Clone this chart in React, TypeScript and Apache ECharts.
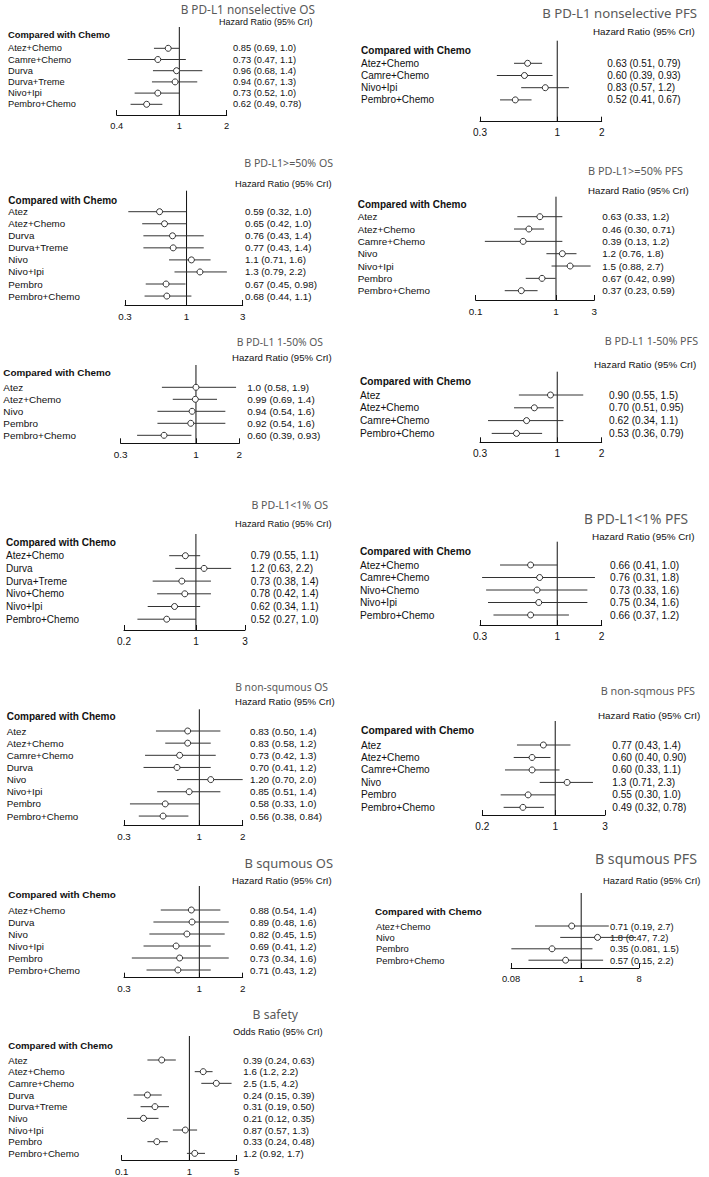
import React, { useEffect, useRef } from "react";
import * as echarts from "echarts";

// ---------- data ----------
const osNonselNames = ["Atez+Chemo", "Camre+Chemo", "Durva", "Durva+Treme", "Nivo+Ipi", "Pembro+Chemo"];
const osNonselEst = ["0.85", "0.73", "0.96", "0.94", "0.73", "0.62"];
const osNonselLo = ["0.69", "0.47", "0.68", "0.67", "0.52", "0.49"];
const osNonselHi = ["1.0", "1.1", "1.4", "1.3", "1.0", "0.78"];
const osNonselTicks = ["0.4", "1", "2"];

const pfsNonselNames = ["Atez+Chemo", "Camre+Chemo", "Nivo+Ipi", "Pembro+Chemo"];
const pfsNonselEst = ["0.63", "0.60", "0.83", "0.52"];
const pfsNonselLo = ["0.51", "0.39", "0.57", "0.41"];
const pfsNonselHi = ["0.79", "0.93", "1.2", "0.67"];
const pfsNonselTicks = ["0.3", "1", "2"];

const os50Names = ["Atez", "Atez+Chemo", "Durva", "Durva+Treme", "Nivo", "Nivo+Ipi", "Pembro", "Pembro+Chemo"];
const os50Est = ["0.59", "0.65", "0.76", "0.77", "1.1", "1.3", "0.67", "0.68"];
const os50Lo = ["0.32", "0.42", "0.43", "0.43", "0.71", "0.79", "0.45", "0.44"];
const os50Hi = ["1.0", "1.0", "1.4", "1.4", "1.6", "2.2", "0.98", "1.1"];
const os50Ticks = ["0.3", "1", "3"];

const pfs50Names = ["Atez", "Atez+Chemo", "Camre+Chemo", "Nivo", "Nivo+Ipi", "Pembro", "Pembro+Chemo"];
const pfs50Est = ["0.63", "0.46", "0.39", "1.2", "1.5", "0.67", "0.37"];
const pfs50Lo = ["0.33", "0.30", "0.13", "0.76", "0.88", "0.42", "0.23"];
const pfs50Hi = ["1.2", "0.71", "1.2", "1.8", "2.7", "0.99", "0.59"];
const pfs50Ticks = ["0.1", "1", "3"];

const os1to50Names = ["Atez", "Atez+Chemo", "Nivo", "Pembro", "Pembro+Chemo"];
const os1to50Est = ["1.0", "0.99", "0.94", "0.92", "0.60"];
const os1to50Lo = ["0.58", "0.69", "0.54", "0.54", "0.39"];
const os1to50Hi = ["1.9", "1.4", "1.6", "1.6", "0.93"];
const os1to50Ticks = ["0.3", "1", "2"];

const pfs1to50Names = ["Atez", "Atez+Chemo", "Camre+Chemo", "Pembro+Chemo"];
const pfs1to50Est = ["0.90", "0.70", "0.62", "0.53"];
const pfs1to50Lo = ["0.55", "0.51", "0.34", "0.36"];
const pfs1to50Hi = ["1.5", "0.95", "1.1", "0.79"];
const pfs1to50Ticks = ["0.3", "1", "2"];

const osLt1Names = ["Atez+Chemo", "Durva", "Durva+Treme", "Nivo+Chemo", "Nivo+Ipi", "Pembro+Chemo"];
const osLt1Est = ["0.79", "1.2", "0.73", "0.78", "0.62", "0.52"];
const osLt1Lo = ["0.55", "0.63", "0.38", "0.42", "0.34", "0.27"];
const osLt1Hi = ["1.1", "2.2", "1.4", "1.4", "1.1", "1.0"];
const osLt1Ticks = ["0.2", "1", "3"];

const pfsLt1Names = ["Atez+Chemo", "Camre+Chemo", "Nivo+Chemo", "Nivo+Ipi", "Pembro+Chemo"];
const pfsLt1Est = ["0.66", "0.76", "0.73", "0.75", "0.66"];
const pfsLt1Lo = ["0.41", "0.31", "0.33", "0.34", "0.37"];
const pfsLt1Hi = ["1.0", "1.8", "1.6", "1.6", "1.2"];
const pfsLt1Ticks = ["0.3", "1", "2"];

const osNonSqNames = ["Atez", "Atez+Chemo", "Camre+Chemo", "Durva", "Nivo", "Nivo+Ipi", "Pembro", "Pembro+Chemo"];
const osNonSqEst = ["0.83", "0.83", "0.73", "0.70", "1.20", "0.85", "0.58", "0.56"];
const osNonSqLo = ["0.50", "0.58", "0.42", "0.41", "0.70", "0.51", "0.33", "0.38"];
const osNonSqHi = ["1.4", "1.2", "1.3", "1.2", "2.0", "1.4", "1.0", "0.84"];
const osNonSqTicks = ["0.3", "1", "2"];

const pfsNonSqNames = ["Atez", "Atez+Chemo", "Camre+Chemo", "Nivo", "Pembro", "Pembro+Chemo"];
const pfsNonSqEst = ["0.77", "0.60", "0.60", "1.3", "0.55", "0.49"];
const pfsNonSqLo = ["0.43", "0.40", "0.33", "0.71", "0.30", "0.32"];
const pfsNonSqHi = ["1.4", "0.90", "1.1", "2.3", "1.0", "0.78"];
const pfsNonSqTicks = ["0.2", "1", "3"];

const osSqNames = ["Atez+Chemo", "Durva", "Nivo", "Nivo+Ipi", "Pembro", "Pembro+Chemo"];
const osSqEst = ["0.88", "0.89", "0.82", "0.69", "0.73", "0.71"];
const osSqLo = ["0.54", "0.48", "0.45", "0.41", "0.34", "0.43"];
const osSqHi = ["1.4", "1.6", "1.5", "1.2", "1.6", "1.2"];
const osSqTicks = ["0.3", "1", "2"];

const pfsSqNames = ["Atez+Chemo", "Nivo", "Pembro", "Pembro+Chemo"];
const pfsSqEst = ["0.71", "1.8", "0.35", "0.57"];
const pfsSqLo = ["0.19", "0.47", "0.081", "0.15"];
const pfsSqHi = ["2.7", "7.2", "1.5", "2.2"];
const pfsSqTicks = ["0.08", "1", "8"];

const safetyNames = ["Atez", "Atez+Chemo", "Camre+Chemo", "Durva", "Durva+Treme", "Nivo", "Nivo+Ipi", "Pembro", "Pembro+Chemo"];
const safetyEst = ["0.39", "1.6", "2.5", "0.24", "0.31", "0.21", "0.87", "0.33", "1.2"];
const safetyLo = ["0.24", "1.2", "1.5", "0.15", "0.19", "0.12", "0.57", "0.24", "0.92"];
const safetyHi = ["0.63", "2.2", "4.2", "0.39", "0.50", "0.35", "1.3", "0.48", "1.7"];
const safetyTicks = ["0.1", "1", "5"];

const HR_LABEL = "Hazard Ratio (95% CrI)";
const OR_LABEL = "Odds Ratio (95% CrI)";
const HEADER = "Compared with Chemo";

const panels = [
  { title: "B PD-L1 nonselective OS", ratio: HR_LABEL, names: osNonselNames, est: osNonselEst, lo: osNonselLo, hi: osNonselHi, ticks: osNonselTicks },
  { title: "B PD-L1 nonselective PFS", ratio: HR_LABEL, names: pfsNonselNames, est: pfsNonselEst, lo: pfsNonselLo, hi: pfsNonselHi, ticks: pfsNonselTicks },
  { title: "B PD-L1>=50% OS", ratio: HR_LABEL, names: os50Names, est: os50Est, lo: os50Lo, hi: os50Hi, ticks: os50Ticks },
  { title: "B PD-L1>=50% PFS", ratio: HR_LABEL, names: pfs50Names, est: pfs50Est, lo: pfs50Lo, hi: pfs50Hi, ticks: pfs50Ticks },
  { title: "B PD-L1 1-50% OS", ratio: HR_LABEL, names: os1to50Names, est: os1to50Est, lo: os1to50Lo, hi: os1to50Hi, ticks: os1to50Ticks },
  { title: "B PD-L1 1-50% PFS", ratio: HR_LABEL, names: pfs1to50Names, est: pfs1to50Est, lo: pfs1to50Lo, hi: pfs1to50Hi, ticks: pfs1to50Ticks },
  { title: "B PD-L1<1% OS", ratio: HR_LABEL, names: osLt1Names, est: osLt1Est, lo: osLt1Lo, hi: osLt1Hi, ticks: osLt1Ticks },
  { title: "B PD-L1<1% PFS", ratio: HR_LABEL, names: pfsLt1Names, est: pfsLt1Est, lo: pfsLt1Lo, hi: pfsLt1Hi, ticks: pfsLt1Ticks },
  { title: "B non-squmous OS", ratio: HR_LABEL, names: osNonSqNames, est: osNonSqEst, lo: osNonSqLo, hi: osNonSqHi, ticks: osNonSqTicks },
  { title: "B non-sqmous PFS", ratio: HR_LABEL, names: pfsNonSqNames, est: pfsNonSqEst, lo: pfsNonSqLo, hi: pfsNonSqHi, ticks: pfsNonSqTicks },
  { title: "B squmous OS", ratio: HR_LABEL, names: osSqNames, est: osSqEst, lo: osSqLo, hi: osSqHi, ticks: osSqTicks },
  { title: "B squmous PFS", ratio: HR_LABEL, names: pfsSqNames, est: pfsSqEst, lo: pfsSqLo, hi: pfsSqHi, ticks: pfsSqTicks },
  { title: "B safety", ratio: OR_LABEL, names: safetyNames, est: safetyEst, lo: safetyLo, hi: safetyHi, ticks: safetyTicks },
];

// ---------- layout (pixel positions per panel) ----------
// title: [rightX, centerY, size], ratio: [leftX, centerY, size], header: [leftX, centerY, size]
const layouts = [
  { title: [315, 9, 11.8], ratio: [219, 22, 9.0], header: [8, 34.5, 9.4], labelX: 8, font: 9.3, first: 48.3, sp: 11.2, vtop: 27, axisY: 115, xl: 116.7, xr: 226.7, hrX: 233 },
  { title: [697, 13.3, 13.2], ratio: [593, 31.7, 9.8], header: [361, 50, 10.1], labelX: 361, font: 10, first: 63.3, sp: 12.2, vtop: 40.7, axisY: 121.7, xl: 480, xr: 601.7, hrX: 607.3 },
  { title: [333, 163, 10.6], ratio: [235, 184, 9.3], header: [8.3, 200, 10], labelX: 8.3, font: 9.8, first: 211.7, sp: 12.05, vtop: 190.7, axisY: 305, xl: 125, xr: 242.7, hrX: 245 },
  { title: [683, 170.7, 10.9], ratio: [588, 190.7, 9.7], header: [357.7, 204, 10], labelX: 357.7, font: 9.9, first: 216.7, sp: 12.33, vtop: 196.7, axisY: 300, xl: 475.7, xr: 594.3, hrX: 602.3 },
  { title: [323, 341.7, 10.3], ratio: [232, 357.3, 9.6], header: [3.3, 372.7, 9.9], labelX: 3.3, font: 9.95, first: 387.3, sp: 12, vtop: 365, axisY: 443.3, xl: 120.7, xr: 239.3, hrX: 247.3 },
  { title: [698, 341, 10.7], ratio: [594, 364.3, 9.86], header: [360, 381, 10.2], labelX: 360, font: 10.2, first: 395, sp: 12.8, vtop: 371.7, axisY: 442.3, xl: 480, xr: 601.7, hrX: 609 },
  { title: [328, 505, 10.6], ratio: [235, 524.3, 9.3], header: [6, 542.3, 10.1], labelX: 6, font: 10, first: 555.7, sp: 12.7, vtop: 534, axisY: 630, xl: 124, xr: 245, hrX: 250.7 },
  { title: [688, 518.3, 13.75], ratio: [592, 536, 9.9], header: [360, 551, 10.2], labelX: 360, font: 10.2, first: 565, sp: 12.5, vtop: 541.7, axisY: 625, xl: 480, xr: 601.7, hrX: 610 },
  { title: [328, 687.3, 10.3], ratio: [235, 701.7, 9.6], header: [6.7, 716.7, 10], labelX: 6.7, font: 9.8, first: 731, sp: 12.15, vtop: 709.3, axisY: 825, xl: 124, xr: 242.7, hrX: 250 },
  { title: [695, 690.7, 10.8], ratio: [598, 715, 9.85], header: [361, 730, 10.4], labelX: 361, font: 10.1, first: 745, sp: 12.47, vtop: 721, axisY: 815, xl: 482.3, xr: 605, hrX: 612.3 },
  { title: [333, 862.7, 12.95], ratio: [232, 880, 9.6], header: [8.3, 894, 9.9], labelX: 8.3, font: 9.8, first: 910, sp: 12, vtop: 886, axisY: 977.7, xl: 124, xr: 242.7, hrX: 250 },
  { title: [697, 858, 14.2], ratio: [603, 880, 9.4], header: [375, 911, 9.8], labelX: 376, font: 9.4, first: 926, sp: 11.4, vtop: 893, axisY: 968, xl: 511, xr: 639, hrX: 610 },
  { title: [298, 1014.3, 12.2], ratio: [233, 1031, 9.4], header: [8.3, 1045, 9.6], labelX: 8.3, font: 9.7, first: 1060, sp: 11.67, vtop: 1036, axisY: 1160, xl: 121.7, xr: 236.7, hrX: 243.3 },
];

const FONT = "'Liberation Sans', Arial, sans-serif";
const TITLE_FONT = "'Noto Sans', 'Open Sans', sans-serif";

function tickText(v: number, ticks: string[]) {
  for (const t of ticks) {
    const n = Number(t);
    if (Math.abs(v - n) <= Math.abs(n) * 1e-6) return t;
  }
  return "";
}

function buildOption() {
  const grid: any[] = [];
  const xAxis: any[] = [];
  const yAxis: any[] = [];
  const series: any[] = [];
  const graphic: any[] = [];

  panels.forEach((p, i) => {
    const L = layouts[i];
    const n = p.names.length;
    const top = L.first - L.sp / 2;
    const height = n * L.sp;
    const tickNums = p.ticks.map(Number);
    grid.push({ left: L.xl, top, width: L.xr - L.xl, height });

    xAxis.push({
      type: "log",
      logBase: 10,
      gridIndex: i,
      min: tickNums[0],
      max: tickNums[tickNums.length - 1],
      offset: L.axisY - (top + height),
      axisLine: { show: true, lineStyle: { color: "#111", width: 1 } },
      axisTick: { show: true, inside: true, length: 5, customValues: tickNums, lineStyle: { color: "#111", width: 1 } },
      minorTick: { show: false },
      splitLine: { show: false },
      axisLabel: {
        customValues: tickNums,
        margin: 6,
        fontSize: L.font,
        fontFamily: FONT,
        color: "#111",
        formatter: (v: number) => tickText(v, p.ticks),
      },
    });

    const hrTexts = p.est.map((e, j) => `${e} (${p.lo[j]}, ${p.hi[j]})`);
    const yCommon = {
      type: "category",
      gridIndex: i,
      inverse: true,
      axisLine: { show: false },
      axisTick: { show: false },
      splitLine: { show: false },
    };
    yAxis.push({
      ...yCommon,
      data: p.names,
      position: "left",
      axisLabel: { interval: 0, align: "left", margin: L.xl - L.labelX, fontSize: L.font, fontFamily: FONT, color: "#111" },
    });
    yAxis.push({
      ...yCommon,
      data: hrTexts,
      position: "right",
      axisLabel: { interval: 0, align: "left", margin: L.hrX - L.xr, fontSize: L.font, fontFamily: FONT, color: "#111" },
    });

    // reference line at ratio = 1
    series.push({
      type: "custom",
      xAxisIndex: i,
      yAxisIndex: 2 * i,
      silent: true,
      data: [[1, 0]],
      encode: { x: 0, y: 1 },
      renderItem: (_params: any, api: any) => {
        const x = api.coord([1, 0])[0];
        return {
          type: "line",
          shape: { x1: x, y1: L.vtop, x2: x, y2: L.axisY },
          style: { stroke: "#111", lineWidth: 1 },
        };
      },
      z: 1,
    });

    // credible interval bars
    series.push({
      type: "custom",
      xAxisIndex: i,
      yAxisIndex: 2 * i,
      silent: true,
      data: p.lo.map((l, j) => [Number(l), Number(p.hi[j]), j]),
      encode: { x: [0, 1], y: 2 },
      renderItem: (_params: any, api: any) => {
        const a = api.coord([api.value(0), api.value(2)]);
        const b = api.coord([api.value(1), api.value(2)]);
        return {
          type: "line",
          shape: { x1: a[0], y1: a[1], x2: b[0], y2: b[1] },
          style: { stroke: "#333", lineWidth: 1 },
        };
      },
      z: 2,
    });

    // point estimates
    series.push({
      type: "scatter",
      xAxisIndex: i,
      yAxisIndex: 2 * i,
      silent: true,
      data: p.est.map((e, j) => [Number(e), j]),
      symbol: "circle",
      symbolSize: 6,
      itemStyle: { color: "#fff", borderColor: "#333", borderWidth: 1, opacity: 1 },
      z: 3,
    });

    graphic.push({
      type: "text",
      x: L.title[0],
      y: L.title[1],
      style: { text: p.title, fontSize: L.title[2], fontFamily: TITLE_FONT, fill: "#595959", align: "right", verticalAlign: "middle" },
    });
    graphic.push({
      type: "text",
      x: L.ratio[0],
      y: L.ratio[1],
      style: { text: p.ratio, fontSize: L.ratio[2], fontFamily: FONT, fill: "#111", align: "left", verticalAlign: "middle" },
    });
    graphic.push({
      type: "text",
      x: L.header[0],
      y: L.header[1],
      style: { text: HEADER, fontSize: L.header[2], fontWeight: "bold", fontFamily: FONT, fill: "#111", align: "left", verticalAlign: "middle" },
    });
  });

  return {
    animation: false,
    backgroundColor: "#fff",
    grid,
    xAxis,
    yAxis,
    series,
    graphic,
  };
}

export default function App() {
  const ref = useRef<HTMLDivElement>(null);
  useEffect(() => {
    if (!ref.current) return;
    const chart = echarts.init(ref.current, undefined, { renderer: "svg" });
    chart.setOption(buildOption() as any);
    return () => chart.dispose();
  }, []);
  return <div ref={ref} style={{ position: "absolute", left: 0, top: 0, width: 709, height: 1177 }} />;
}
